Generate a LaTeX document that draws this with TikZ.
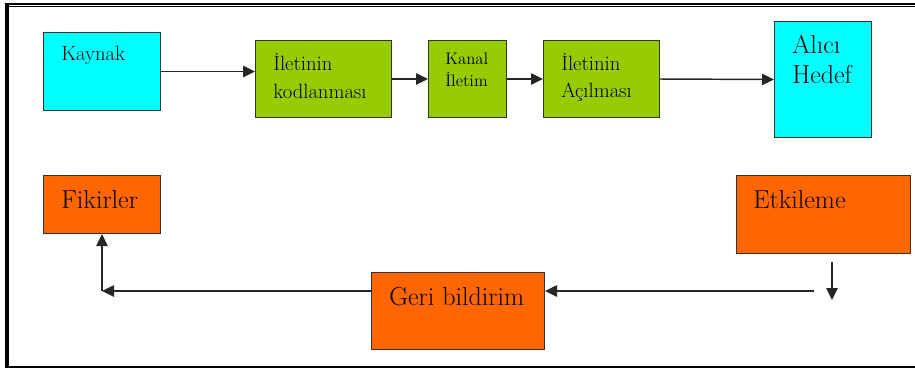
\documentclass[tikz,border=0pt]{standalone}
\usepackage{fontspec}
\usetikzlibrary{arrows.meta,calc}
\definecolor{boxcyan}{HTML}{00FFFF}
\definecolor{boxgreen}{HTML}{99CC00}
\definecolor{boxorange}{HTML}{FF6600}
\newcommand{\pxlen}{0.75pt}
\begin{document}
\begin{tikzpicture}[x=0.75pt,y=-0.75pt,
  box/.style={draw=black!80, line width=0.75pt, inner sep=0pt, anchor=north west},
  txt/.style={anchor=base west, inner sep=0pt},
  mid/.style={font=\fontsize{15.5}{18}\selectfont},
  big/.style={font=\fontsize{19.5}{22}\selectfont},
  small/.style={font=\fontsize{12.6}{15}\selectfont},
  arr/.style={draw=black!85, line width=1.1pt, -{Triangle[length=9pt,width=8.5pt]}}
]
\useasboundingbox (0,0) rectangle (915,369);

% outer frame
\draw[line width=2.2pt] (5,4) -- (915,4);
\draw[line width=1pt] (9,6.8) -- (915,6.8);
\draw[line width=3pt] (7,3) -- (7,368);
\draw[line width=1.2pt] (5,366.8) -- (915,366.8);

% boxes
\node[box, fill=boxcyan,   minimum width=117*\pxlen, minimum height=78*\pxlen]  (kay) at (43,32) {};
\node[box, fill=boxgreen,  minimum width=136*\pxlen, minimum height=77*\pxlen]  (kod) at (255,40) {};
\node[box, fill=boxgreen,  minimum width=78*\pxlen,  minimum height=77*\pxlen]  (kan) at (428,40) {};
\node[box, fill=boxgreen,  minimum width=116*\pxlen, minimum height=77*\pxlen]  (aci) at (543,40) {};
\node[box, fill=boxcyan,   minimum width=97*\pxlen,  minimum height=116*\pxlen] (alc) at (774,21) {};
\node[box, fill=boxorange, minimum width=117*\pxlen, minimum height=58*\pxlen]  (fik) at (43,175) {};
\node[box, fill=boxorange, minimum width=173*\pxlen, minimum height=77*\pxlen]  (gb)  at (371,272) {};
\node[box, fill=boxorange, minimum width=174*\pxlen, minimum height=78*\pxlen]  (etk) at (736,175) {};

% box texts
\node[txt, mid]   (kayT)  at (61,60)  {Kaynak};
\node[txt, mid]   (kodT1) at (273,70) {İletinin};
\node[txt, mid]   (kodT2) at (273,98) {kodlanması};
\node[txt, small] (kanT1) at (445,64) {Kanal};
\node[txt, small] (kanT2) at (445,86) {İletim};
\node[txt, mid]   (aciT1) at (561,70) {İletinin};
\node[txt, mid]   (aciT2) at (561,97) {Açılması};
\node[txt, big]   (alcT1) at (792,53) {Alıcı};
\node[txt, big]   (alcT2) at (792,83) {Hedef};
\node[txt, big]   (fikT)  at (61,208) {Fikirler};
\node[txt, big]   (gbT)   at (389,305) {Geri bildirim};
\node[txt, big]   (etkT)  at (753,208) {Etkileme};

% forward chain
\draw[arr] (kay.east) -- (kay.east -| kod.west);
\draw[arr] (kod.east) -- (kan.west);
\draw[arr] (kan.east) -- (aci.west);
\draw[arr] (aci.east) -- (alc.west);

% feedback loop
\coordinate (dTop) at (832,262);
\coordinate (dBot) at (832,300);
\coordinate (fbStart) at (814,291);
\coordinate (corner) at (fik.south |- fbStart);
\draw[arr] (dTop) -- (dBot);
\draw[arr] (fbStart) -- (fbStart -| gb.east);
\draw[arr] (fbStart -| gb.west) -- (corner);
\draw[arr] (corner) -- (fik.south);
\end{tikzpicture}
\end{document}
